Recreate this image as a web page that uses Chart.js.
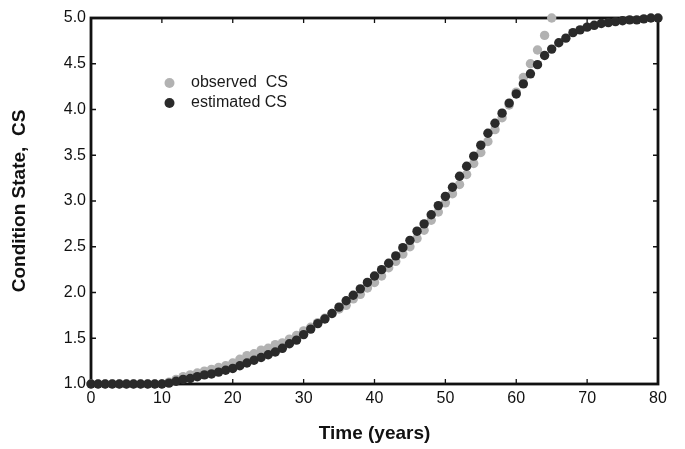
<!DOCTYPE html>
<html>
<head>
<meta charset="utf-8">
<script src="https://cdn.jsdelivr.net/npm/chart.js@4/dist/chart.umd.min.js"></script>
<style>
  html, body { margin: 0; padding: 0; background: #ffffff; }
  #wrap { position: relative; width: 685px; height: 449px; }
</style>
</head>
<body>
<div id="wrap"><canvas id="c" width="685" height="449"></canvas></div>
<script>
// ---- data ----
const years = [0,1,2,3,4,5,6,7,8,9,10,11,12,13,14,15,16,17,18,19,20,
  21,22,23,24,25,26,27,28,29,30,31,32,33,34,35,36,37,38,39,40,
  41,42,43,44,45,46,47,48,49,50,51,52,53,54,55,56,57,58,59,60,
  61,62,63,64,65,66,67,68,69,70,71,72,73,74,75,76,77,78,79,80];

const observedCS = [1.00,1.00,1.00,1.00,1.00,1.00,1.00,1.00,1.00,1.00,1.00,
  1.02,1.05,1.08,1.10,1.12,1.14,1.16,1.18,1.20,1.23,
  1.27,1.31,1.33,1.37,1.39,1.43,1.45,1.49,1.53,1.58,
  1.62,1.67,1.72,1.77,1.82,1.86,1.93,1.98,2.05,2.11,
  2.18,2.27,2.34,2.42,2.50,2.59,2.68,2.79,2.88,2.98,
  3.08,3.18,3.29,3.41,3.53,3.65,3.78,3.91,4.05,4.19,
  4.35,4.50,4.65,4.81,5.00];

const estimatedCS = [1.00,1.00,1.00,1.00,1.00,1.00,1.00,1.00,1.00,1.00,1.00,
  1.01,1.03,1.05,1.06,1.08,1.10,1.11,1.13,1.15,1.17,
  1.20,1.23,1.26,1.29,1.32,1.35,1.39,1.44,1.48,1.54,
  1.60,1.66,1.71,1.77,1.84,1.91,1.97,2.04,2.11,2.18,
  2.25,2.32,2.40,2.49,2.57,2.67,2.75,2.85,2.95,3.05,
  3.15,3.27,3.38,3.49,3.61,3.74,3.85,3.96,4.07,4.17,
  4.28,4.39,4.49,4.59,4.66,4.73,4.78,4.84,4.87,4.90,
  4.92,4.94,4.95,4.96,4.97,4.98,4.98,4.99,5.00,5.00];

const seriesLabels = ['observed  CS', 'estimated CS'];
const xTitle = 'Time (years)';
const yTitle = 'Condition State,  CS';

// ---- styling ----
const FONT = '"Liberation Sans", Arial, Helvetica, sans-serif';
const GREY = '#b2b2b2';
const DARK = '#2a2a2a';
const INK = '#111111';

const toPoints = (vals) => vals.map((v, i) => ({ x: years[i], y: v }));

const framePlugin = {
  id: 'frame',
  beforeDatasetsDraw(chart) {
    const { ctx, chartArea: a, scales: { x, y } } = chart;
    ctx.save();
    ctx.strokeStyle = INK;
    ctx.lineWidth = 1.3;
    const tl = 5;
    x.ticks.forEach(t => {
      const px = x.getPixelForValue(t.value);
      if (t.value === x.min || t.value === x.max) return;
      ctx.beginPath();
      ctx.moveTo(px, a.bottom); ctx.lineTo(px, a.bottom - tl);
      ctx.moveTo(px, a.top); ctx.lineTo(px, a.top + tl);
      ctx.stroke();
    });
    y.ticks.forEach(t => {
      const py = y.getPixelForValue(t.value);
      if (t.value === y.min || t.value === y.max) return;
      ctx.beginPath();
      ctx.moveTo(a.left, py); ctx.lineTo(a.left + tl, py);
      ctx.moveTo(a.right, py); ctx.lineTo(a.right - tl, py);
      ctx.stroke();
    });
    ctx.lineWidth = 2.8;
    ctx.strokeRect(a.left, a.top, a.right - a.left, a.bottom - a.top);
    ctx.restore();
  }
};

const legendPlugin = {
  id: 'insideLegend',
  afterDraw(chart) {
    const { ctx, chartArea: a } = chart;
    const items = [
      { label: chart.data.datasets[0].label, color: chart.data.datasets[0].backgroundColor },
      { label: chart.data.datasets[1].label, color: chart.data.datasets[1].backgroundColor }
    ];
    ctx.save();
    ctx.font = '16px ' + FONT;
    ctx.textBaseline = 'middle';
    ctx.textAlign = 'left';
    items.forEach((it, i) => {
      const cy = a.top + 65 + i * 20;
      ctx.fillStyle = it.color;
      ctx.beginPath();
      ctx.arc(a.left + 78.5, cy, 5, 0, Math.PI * 2);
      ctx.fill();
      ctx.fillStyle = '#1a1a1a';
      ctx.fillText(it.label, a.left + 100, cy);
    });
    ctx.restore();
  }
};

new Chart(document.getElementById('c'), {
  type: 'scatter',
  data: {
    datasets: [
      {
        label: seriesLabels[0],
        data: toPoints(observedCS),
        backgroundColor: GREY,
        borderWidth: 0,
        pointRadius: 4.7,
        pointHoverRadius: 4.7,
        showLine: false,
        order: 1,
        clip: false
      },
      {
        label: seriesLabels[1],
        data: toPoints(estimatedCS),
        backgroundColor: DARK,
        borderWidth: 0,
        pointRadius: 4.7,
        pointHoverRadius: 4.7,
        showLine: false,
        order: 0,
        clip: false
      }
    ]
  },
  options: {
    responsive: false,
    animation: false,
    events: [],
    layout: { padding: { top: 18, right: 27, bottom: 0, left: 0 } },
    plugins: {
      legend: { display: false },
      tooltip: { enabled: false }
    },
    scales: {
      x: {
        type: 'linear',
        min: 0, max: 80,
        grid: { display: false, drawTicks: false },
        border: { display: false },
        ticks: { stepSize: 10, color: INK, font: { family: FONT, size: 16 }, padding: 5, maxRotation: 0 },
        title: { display: true, text: xTitle, color: INK, font: { family: FONT, size: 19, weight: 'bold' }, padding: { top: 0, bottom: 4 } },
        afterFit(scale) { scale.height = 65; }
      },
      y: {
        type: 'linear',
        min: 1, max: 5,
        grid: { display: false, drawTicks: false },
        border: { display: false },
        ticks: { stepSize: 0.5, color: INK, font: { family: FONT, size: 16 }, padding: 5,
          callback: (v) => Number(v).toFixed(1) },
        title: { display: true, text: yTitle, color: INK, font: { family: FONT, size: 19, weight: 'bold' }, padding: { top: 8, bottom: 0 } },
        afterFit(scale) { scale.width = 91; }
      }
    }
  },
  plugins: [framePlugin, legendPlugin]
});
</script>
</body>
</html>
